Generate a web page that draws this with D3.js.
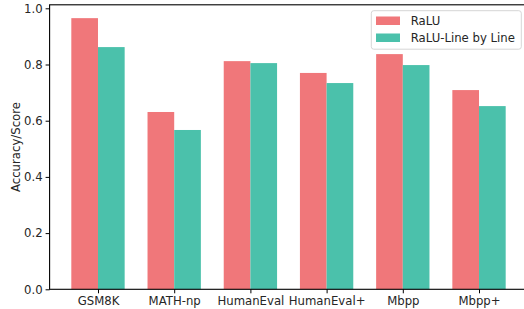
<!DOCTYPE html>
<html>
<head>
<meta charset="utf-8">
<script src="https://cdn.jsdelivr.net/npm/d3@7"></script>
<style>
  body { margin: 0; background: #fff; }
  svg { display: block; font-family: "DejaVu Sans", sans-serif; }
</style>
</head>
<body>
<svg id="chart" width="524" height="309"></svg>
<script>
var categories = ["GSM8K", "MATH-np", "HumanEval", "HumanEval+", "Mbpp", "Mbpp+"];
var seriesNames = ["RaLU", "RaLU-Line by Line"];
var ralu = [0.965, 0.631, 0.812, 0.770, 0.837, 0.709];
var raluLine = [0.862, 0.567, 0.805, 0.734, 0.798, 0.652];
var yTicks = [0.0, 0.2, 0.4, 0.6, 0.8, 1.0];
var colors = ["#f0777a", "#4bc1ab"];

var svg = d3.select("#chart");
// plot area (right edge runs past the picture, as in the reference)
var plotL = 49.6, plotR = 527.4, plotT = 4.8, plotB = 289.3;
var barW = 0.35;

var x = d3.scaleLinear().domain([-0.635, 5.635]).range([plotL, plotR]);
var y = d3.scaleLinear().domain([0, 1.0125]).range([plotB, plotT]);

var series = [ralu, raluLine];
series.forEach(function(vals, s) {
  svg.append("g").selectAll("rect")
    .data(vals)
    .join("rect")
    .attr("x", function(d, i) { return x(i + (s === 0 ? -barW : 0)); })
    .attr("y", function(d) { return y(d); })
    .attr("width", x(barW) - x(0))
    .attr("height", function(d) { return y(0) - y(d); })
    .attr("fill", colors[s]);
});

// axes
var yAxis = svg.append("g")
  .attr("transform", "translate(" + plotL + ",0)")
  .call(d3.axisLeft(y).tickValues(yTicks).tickFormat(d3.format(".1f")).tickSize(4).tickPadding(3));
var xAxis = svg.append("g")
  .attr("transform", "translate(0," + plotB + ")")
  .call(d3.axisBottom(x).tickValues(d3.range(categories.length)).tickFormat(function(i) { return categories[i]; }).tickSize(4).tickPadding(3));

[xAxis, yAxis].forEach(function(a) {
  a.select(".domain").remove();
  a.selectAll("line").attr("stroke", "#000").attr("stroke-width", 1);
  a.selectAll("text").attr("fill", "#262626").style("font-size", "11.7px").style("font-family", "DejaVu Sans");
});

// spines
svg.append("rect")
  .attr("x", plotL).attr("y", plotT)
  .attr("width", plotR - plotL).attr("height", plotB - plotT)
  .attr("fill", "none").attr("stroke", "#000").attr("stroke-width", 1.1);

svg.append("text")
  .attr("transform", "translate(20," + ((plotT + plotB) / 2) + ") rotate(-90)")
  .attr("text-anchor", "middle")
  .attr("fill", "#262626")
  .style("font-size", "11.7px")
  .text("Accuracy/Score");

// legend
var lg = svg.append("g");
lg.append("rect")
  .attr("x", 371.3).attr("y", 10.7).attr("width", 150).attr("height", 38.5)
  .attr("rx", 2.5).attr("fill", "#fff").attr("fill-opacity", 0.8)
  .attr("stroke", "#d6d6d6").attr("stroke-width", 1);
seriesNames.forEach(function(name, i) {
  lg.append("rect")
    .attr("x", 376).attr("y", 16.5 + i * 17)
    .attr("width", 24).attr("height", 8.5)
    .attr("fill", colors[i]);
  lg.append("text")
    .attr("x", 410.7).attr("y", 25 + i * 17)
    .attr("fill", "#262626")
    .style("font-size", "11.7px")
    .text(name);
});
</script>
</body>
</html>
